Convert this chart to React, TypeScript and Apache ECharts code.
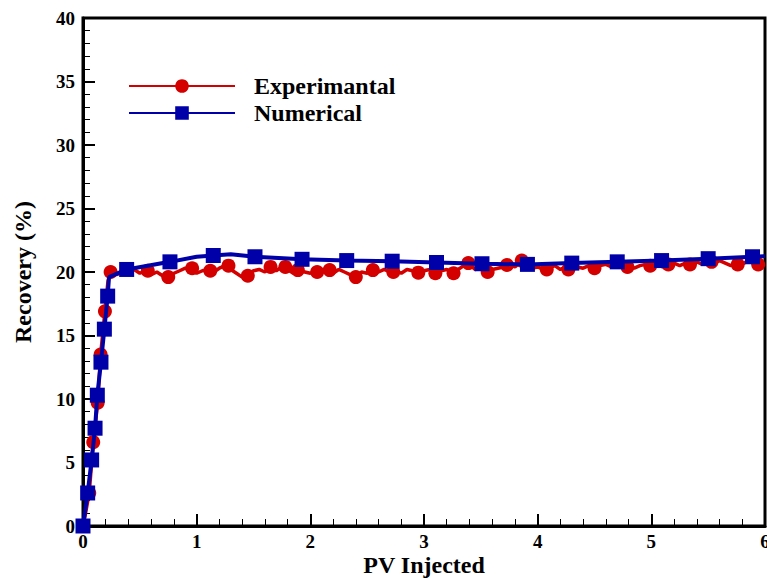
import React, { useEffect, useRef } from "react";
import * as echarts from "echarts";

const xTicks = [0, 1, 2, 3, 4, 5, 6];
const yTicks = [0, 5, 10, 15, 20, 25, 30, 35, 40];

const expLine: [number, number][] = [
  [0, 0], [0.02, 0.9], [0.055, 2.6], [0.09, 6.6], [0.129, 9.7], [0.155, 13.5], [0.193, 16.9], [0.22, 19.3], [0.243, 20.0],
  [0.3, 19.8], [0.35, 20.1], [0.4, 19.9], [0.45, 20.2], [0.5, 19.9], [0.55, 20.1], [0.6, 19.8], [0.65, 20.0], [0.7, 19.7],
  [0.75, 19.6], [0.8, 19.9], [0.85, 20.1], [0.9, 20.3], [0.95, 20.2], [1.0, 19.9], [1.05, 20.1], [1.1, 20.2], [1.15, 20.0],
  [1.2, 20.3], [1.25, 20.5], [1.3, 20.2], [1.35, 19.9], [1.4, 19.6], [1.45, 19.8], [1.5, 20.1], [1.55, 20.2], [1.6, 20.0],
  [1.65, 20.4], [1.7, 20.1], [1.75, 20.4], [1.8, 20.2], [1.85, 19.9], [1.9, 20.2], [1.95, 20.0], [2.0, 19.9], [2.05, 20.1],
  [2.1, 20.0], [2.15, 20.2], [2.2, 19.9], [2.25, 20.2], [2.3, 20.0], [2.35, 19.8], [2.4, 19.6], [2.45, 20.0], [2.5, 19.9],
  [2.55, 20.2], [2.6, 20.0], [2.65, 20.2], [2.7, 20.0], [2.75, 20.1], [2.8, 19.9], [2.85, 20.2], [2.9, 20.1], [2.95, 19.9],
  [3.0, 20.1], [3.05, 20.2], [3.1, 19.9], [3.15, 20.1], [3.2, 20.2], [3.25, 19.9], [3.3, 20.2], [3.35, 20.5], [3.4, 20.6],
  [3.45, 20.2], [3.5, 20.3], [3.55, 20.0], [3.6, 20.2], [3.65, 20.3], [3.7, 20.4], [3.75, 20.6], [3.8, 20.4], [3.85, 20.8],
  [3.9, 20.7], [3.95, 20.3], [4.0, 20.4], [4.05, 20.2], [4.1, 20.3], [4.15, 20.5], [4.2, 20.2], [4.25, 20.4], [4.3, 20.2],
  [4.35, 20.4], [4.4, 20.3], [4.45, 20.5], [4.5, 20.3], [4.55, 20.5], [4.6, 20.6], [4.65, 20.4], [4.7, 20.6], [4.75, 20.4],
  [4.8, 20.5], [4.85, 20.3], [4.9, 20.5], [4.95, 20.6], [5.0, 20.4], [5.05, 20.6], [5.1, 20.4], [5.15, 20.6], [5.2, 20.7],
  [5.25, 20.5], [5.3, 20.7], [5.35, 20.6], [5.4, 20.8], [5.45, 20.6], [5.5, 20.8], [5.55, 20.7], [5.6, 20.9], [5.65, 20.7],
  [5.7, 20.5], [5.75, 20.8], [5.8, 20.6], [5.85, 20.9], [5.9, 20.7], [5.95, 20.5], [6.0, 20.6],
];

const expMarkers: [number, number][] = [
  [0, 0], [0.055, 2.6], [0.09, 6.6], [0.129, 9.7], [0.155, 13.5], [0.193, 16.9], [0.243, 20.0],
  [0.57, 20.1], [0.75, 19.6], [0.96, 20.3], [1.12, 20.1], [1.28, 20.5], [1.45, 19.7], [1.65, 20.4], [1.78, 20.4],
  [1.89, 20.15], [2.06, 20.0], [2.17, 20.15], [2.4, 19.6], [2.55, 20.15], [2.73, 20.0], [2.95, 19.95], [3.1, 19.9],
  [3.26, 19.9], [3.39, 20.7], [3.56, 20.0], [3.73, 20.55], [3.86, 20.9], [4.08, 20.2], [4.27, 20.2], [4.5, 20.3],
  [4.79, 20.4], [4.99, 20.5], [5.15, 20.6], [5.34, 20.6], [5.53, 20.8], [5.76, 20.6], [5.94, 20.6],
];

const numLine: [number, number][] = [
  [0, 0], [0.041, 2.6], [0.076, 5.2], [0.106, 7.7], [0.126, 10.3], [0.158, 12.9], [0.188, 15.5], [0.217, 18.1],
  [0.229, 19.6], [0.384, 20.2], [0.765, 20.8], [1.0, 21.2], [1.146, 21.3], [1.3, 21.4], [1.513, 21.2], [1.927, 21.0],
  [2.32, 20.9], [2.72, 20.85], [3.11, 20.75], [3.51, 20.65], [3.91, 20.6], [4.3, 20.7], [4.7, 20.8], [5.09, 20.9],
  [5.5, 21.05], [5.89, 21.2], [6.0, 21.25],
];

const numMarkers: [number, number][] = [
  [0, 0], [0.041, 2.6], [0.076, 5.2], [0.106, 7.7], [0.126, 10.3], [0.158, 12.9], [0.188, 15.5], [0.217, 18.1],
  [0.384, 20.2], [0.765, 20.8], [1.146, 21.3], [1.513, 21.2], [1.927, 21.0], [2.32, 20.9], [2.72, 20.85],
  [3.11, 20.75], [3.51, 20.65], [3.91, 20.6], [4.3, 20.7], [4.7, 20.8], [5.09, 20.9], [5.5, 21.05], [5.89, 21.2],
];

const RED = "#d40000";
const BLUE = "#0000a8";
const FONT = "'Liberation Serif', 'Times New Roman', serif";

export default function App() {
  const ref = useRef<HTMLDivElement>(null);
  useEffect(() => {
    if (!ref.current) return;
    const chart = echarts.init(ref.current, undefined, { renderer: "svg" });
    chart.setOption({
      animation: false,
      backgroundColor: "#fff",
      grid: {
        left: 83, right: 2, top: 18, bottom: 52,
        show: true, borderColor: "#000", borderWidth: 3,
        containLabel: false,
        outerBoundsMode: "none",
      },
      legend: {
        data: ["Experimantal", "Numerical"],
        orient: "vertical",
        left: 123,
        top: 69,
        itemWidth: 106,
        itemHeight: 17,
        itemGap: 3,
        textStyle: {
          fontFamily: FONT, fontWeight: "bold", fontSize: 24, color: "#000",
          padding: [0, 0, 0, 14], lineHeight: 18,
        },
      },
      xAxis: {
        type: "value",
        min: 0, max: 6, interval: 1,
        name: "PV Injected",
        nameLocation: "middle",
        nameGap: 27,
        nameMoveOverlap: false,
        nameTextStyle: { fontFamily: FONT, fontWeight: "bold", fontSize: 24, color: "#000" },
        axisLine: { show: true, lineStyle: { color: "#000", width: 3 } },
        axisTick: { show: true, inside: true, length: 12, lineStyle: { color: "#000", width: 2 } },
        minorTick: { show: true, splitNumber: 5, length: 7, lineStyle: { color: "#000", width: 1 } },
        splitLine: { show: false },
        axisLabel: { fontFamily: FONT, fontWeight: "bold", fontSize: 19, color: "#000", margin: 6,
          formatter: (v: number) => (xTicks.includes(v) ? String(v) : "") },
      },
      yAxis: {
        type: "value",
        min: 0, max: 40, interval: 5,
        name: "Recovery (%)",
        nameLocation: "middle",
        nameGap: 48,
        nameMoveOverlap: false,
        nameTextStyle: { fontFamily: FONT, fontWeight: "bold", fontSize: 24, color: "#000" },
        axisLine: { show: true, lineStyle: { color: "#000", width: 3 } },
        axisTick: { show: true, inside: true, length: 12, lineStyle: { color: "#000", width: 2 } },
        minorTick: { show: true, splitNumber: 5, length: 7, lineStyle: { color: "#000", width: 1 } },
        splitLine: { show: false },
        axisLabel: { fontFamily: FONT, fontWeight: "bold", fontSize: 19, color: "#000", margin: 8,
          formatter: (v: number) => (yTicks.includes(v) ? String(v) : "") },
      },
      series: [
        {
          name: "Experimantal", type: "line", data: expLine, symbol: "circle", showSymbol: false,
          lineStyle: { color: RED, width: 3.5 }, itemStyle: { color: RED }, z: 2,
        },
        {
          name: "ExpMarkers", type: "scatter", data: expMarkers, symbol: "circle", symbolSize: 14,
          itemStyle: { color: RED, opacity: 1 }, z: 3,
        },
        {
          name: "Numerical", type: "line", data: numLine, symbol: "rect", showSymbol: false,
          lineStyle: { color: BLUE, width: 4 }, itemStyle: { color: BLUE }, z: 4,
        },
        {
          name: "NumMarkers", type: "scatter", data: numMarkers, symbol: "rect", symbolSize: 15,
          itemStyle: { color: BLUE, opacity: 1 }, z: 5,
        },
      ],
    });
    return () => chart.dispose();
  }, []);
  return <div ref={ref} style={{ width: 767, height: 578, position: "absolute", left: 0, top: 0 }} />;
}
